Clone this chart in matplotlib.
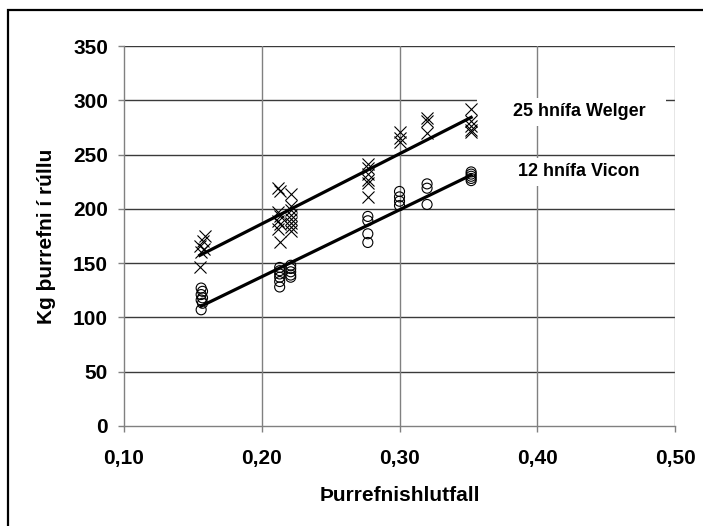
import numpy as np
import matplotlib.pyplot as plt
from matplotlib.patches import Rectangle
from matplotlib.ticker import FuncFormatter

plt.rcParams['font.family'] = ['Liberation Sans', 'DejaVu Sans']
plt.rcParams['font.weight'] = 'bold'

# 25 hnífa Welger (x markers)
welger_x = [0.159, 0.157, 0.155, 0.158, 0.156, 0.155,
            0.212, 0.213, 0.212, 0.213, 0.212, 0.213, 0.212, 0.213,
            0.221, 0.221, 0.221, 0.221, 0.221, 0.221, 0.221, 0.221,
            0.277, 0.277, 0.277, 0.277, 0.277, 0.277,
            0.300, 0.300, 0.300,
            0.320, 0.320, 0.320,
            0.352, 0.352, 0.352, 0.352, 0.352]
welger_y = [175, 170, 166, 163, 160, 146,
            219, 216, 197, 193, 189, 186, 181, 169,
            214, 203, 199, 194, 191, 187, 183, 180,
            241, 238, 232, 227, 224, 211,
            271, 265, 262,
            284, 281, 270,
            292, 281, 276, 273, 271]

# 12 hnífa Vicon (open circles)
vicon_x = [0.156, 0.157, 0.156, 0.157, 0.156, 0.157, 0.156,
           0.213, 0.213, 0.213, 0.213, 0.213, 0.213,
           0.221, 0.221, 0.221, 0.221, 0.221,
           0.277, 0.277, 0.277, 0.277,
           0.300, 0.300, 0.300, 0.300,
           0.320, 0.320, 0.320,
           0.352, 0.352, 0.352, 0.352, 0.352]
vicon_y = [127, 124, 121, 118, 116, 113, 107,
           146, 143, 140, 137, 133, 128,
           148, 145, 142, 139, 137,
           193, 189, 177, 169,
           216, 211, 207, 203,
           223, 219, 204,
           234, 232, 230, 228, 226]

x_ticks = [0.10, 0.20, 0.30, 0.40, 0.50]
y_ticks = [0, 50, 100, 150, 200, 250, 300, 350]

fig = plt.figure(figsize=(7.03, 5.26), dpi=100)
ax = fig.add_axes([0.1764, 0.1903, 0.7838, 0.7222])

# outer chart frame
fig.patches.append(Rectangle((8 / 703, -0.1), 1.1, 1.1 - 10 / 526,
                             transform=fig.transFigure, fill=False,
                             edgecolor='black', linewidth=1.6))

ax.scatter(welger_x, welger_y, marker='x', s=75, color='black',
           linewidths=0.8, zorder=3)
ax.scatter(vicon_x, vicon_y, marker='o', s=52, facecolors='none',
           edgecolors='black', linewidths=0.8, zorder=3)

# linear trendlines
for xs, ys in [(welger_x, welger_y), (vicon_x, vicon_y)]:
    xs = np.array(xs)
    k, b = np.polyfit(xs, ys, 1)
    xl = np.array([xs.min(), xs.max()])
    ax.plot(xl, k * xl + b, color='black', linewidth=2.3, zorder=4)

box = dict(facecolor='white', edgecolor='none', boxstyle='square,pad=0.3')
ax.text(0.425, 289.5, '      25 hnífa Welger   ', ha='center', va='center',
        fontsize=13, fontweight='bold', bbox=box, zorder=2)
ax.text(0.425, 234, '      12 hnífa Vicon   ', ha='center', va='center',
        fontsize=13, fontweight='bold', bbox=box, zorder=2)

ax.set_xlim(0.1, 0.5)
ax.set_ylim(0, 350)
ax.set_xticks(x_ticks)
ax.set_yticks(y_ticks)
ax.xaxis.set_major_formatter(FuncFormatter(lambda v, p: f'{v:.2f}'.replace('.', ',')))

for v in y_ticks[1:]:
    ax.axhline(v, color='#3a3a3a', linewidth=1.0, zorder=1)
for v in x_ticks[1:]:
    ax.axvline(v, color='#808080', linewidth=1.0, zorder=1)

for s in ['top', 'right']:
    ax.spines[s].set_visible(False)
for s in ['left', 'bottom']:
    ax.spines[s].set_color('#808080')
    ax.spines[s].set_linewidth(1.0)

ax.tick_params(axis='both', direction='out', length=4.5, width=1.0,
               color='#808080', labelsize=15)
ax.tick_params(axis='y', pad=7)
ax.tick_params(axis='x', pad=12)
for lab in ax.get_xticklabels() + ax.get_yticklabels():
    lab.set_fontweight('bold')

ax.set_xlabel('Þurrefnishlutfall', fontsize=15, fontweight='bold', labelpad=13)
ax.set_ylabel('Kg þurrefni í rúllu', fontsize=15, fontweight='bold', labelpad=12)

fig.savefig('out.png', dpi=100)
